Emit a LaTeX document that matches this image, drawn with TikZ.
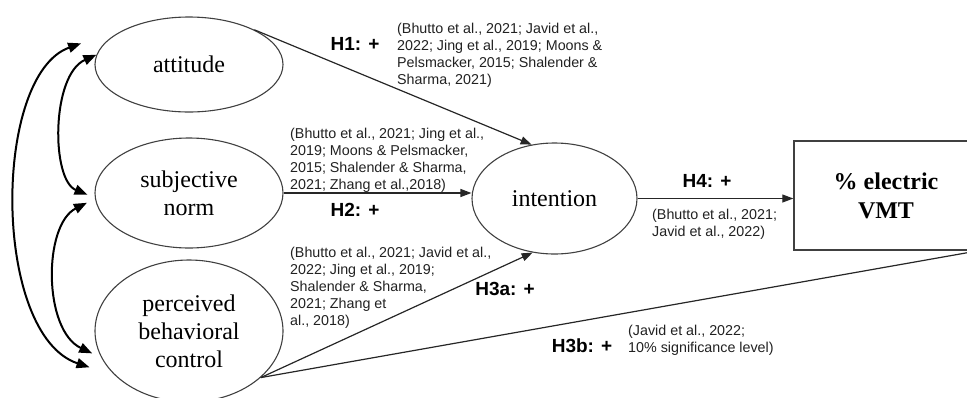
\documentclass[tikz,border=0pt]{standalone}
\usepackage{fontspec}
\setmainfont{Liberation Serif}
\newfontfamily\citefont{Liberation Sans}
\usetikzlibrary{arrows.meta,shapes.geometric}

\newlength{\du}
\setlength{\du}{1pt}

\definecolor{dialinecolor}{rgb}{0.250000, 0.250000, 0.250000}
\definecolor{citecolor}{rgb}{0.130000, 0.130000, 0.130000}

\tikzset{
  construct/.style={ellipse, draw=dialinecolor, line width=1.1\du, inner sep=0pt, align=center,
    font={\fontsize{24}{28}\selectfont}},
  outcome/.style={rectangle, draw=dialinecolor, line width=1.4\du, inner sep=0pt, align=center,
    font={\bfseries\fontsize{24}{29}\selectfont}},
  effect/.style={draw=black!85, line width=1.2\du, -{Triangle[length=11pt,width=8pt]}},
  covar/.style={draw=black, line width=2\du,
    {Triangle[length=13pt,width=10pt]}-{Triangle[length=13pt,width=10pt]}},
  hyp/.style={font={\citefont\bfseries\fontsize{19}{22}\selectfont}, inner sep=0pt},
  cite/.style={font={\citefont\fontsize{14.3}{17}\selectfont}, text=citecolor, align=left,
    anchor=west, inner sep=0pt}
}

\begin{document}
\begin{tikzpicture}
\pgftransformxscale{1.000000}
\pgftransformyscale{-1.000000}
\useasboundingbox (0\du,0\du) rectangle (967\du,397\du);
% constructs
\node[construct, minimum width=188\du, minimum height=95\du] (att) at (189\du,64.5\du) {attitude};
\node[construct, minimum width=188\du, minimum height=110\du] (sn) at (189\du,193\du) {subjective\\norm};
\node[construct, minimum width=188\du, minimum height=142\du] (pbc) at (189\du,331\du) {perceived\\behavioral\\control};
\node[construct, minimum width=165\du, minimum height=111\du] (int) at (554.5\du,198.5\du) {intention};
\node[outcome, minimum width=184\du, minimum height=109\du] (vmt) at (886\du,195.5\du) {\% electric\\VMT};
% paths
\draw[effect] (att.28) -- (int.113);
\draw[effect] (sn.east) -- (sn.east -| int.west);
\draw[effect] (pbc.-33) -- (int.-112);
\draw[effect] (pbc.-33) -- (vmt.south east);
\draw[effect] (int.east) -- (int.east -| vmt.west);
% correlations
\draw[covar] ([xshift=-23\du]att.166) .. controls (-8\du,75\du) and (-8\du,335\du) .. ([xshift=-18\du]pbc.204);
\draw[covar] (att.174) .. controls (51\du,75\du) and (51\du,180\du) .. ([xshift=-7\du]sn.181);
\draw[covar] ([xshift=-9\du]sn.186) .. controls (43\du,225\du) and (43\du,330\du) .. ([xshift=-7\du]pbc.194);
% hypotheses
\node[hyp] (h1) at (355\du,43.5\du) {H1: +};
\node[cite] (c1) at (397\du,55.5\du) {(Bhutto et al., 2021; Javid et al.,\\2022; Jing et al., 2019; Moons \&\\Pelsmacker, 2015; Shalender \&\\Sharma, 2021)};
\node[cite] (c2) at (290\du,160.5\du) {(Bhutto et al., 2021; Jing et al.,\\2019; Moons \& Pelsmacker,\\2015; Shalender \& Sharma,\\2021; Zhang et al.,2018)};
\node[hyp] (h2) at (355\du,210\du) {H2: +};
\node[cite] (c3) at (290\du,288\du) {(Bhutto et al., 2021; Javid et al.,\\2022; Jing et al., 2019;\\Shalender \& Sharma,\\2021; Zhang et\\al., 2018)};
\node[hyp] (h3a) at (505\du,289\du) {H3a: +};
\node[hyp] (h4) at (707\du,181\du) {H4: +};
\node[cite] (c4) at (652\du,224\du) {(Bhutto et al., 2021;\\Javid et al., 2022)};
\node[hyp] (h3b) at (582\du,345.5\du) {H3b: +};
\node[cite] (c5) at (628\du,340.5\du) {(Javid et al., 2022;\\10\% significance level)};
\end{tikzpicture}
\end{document}
